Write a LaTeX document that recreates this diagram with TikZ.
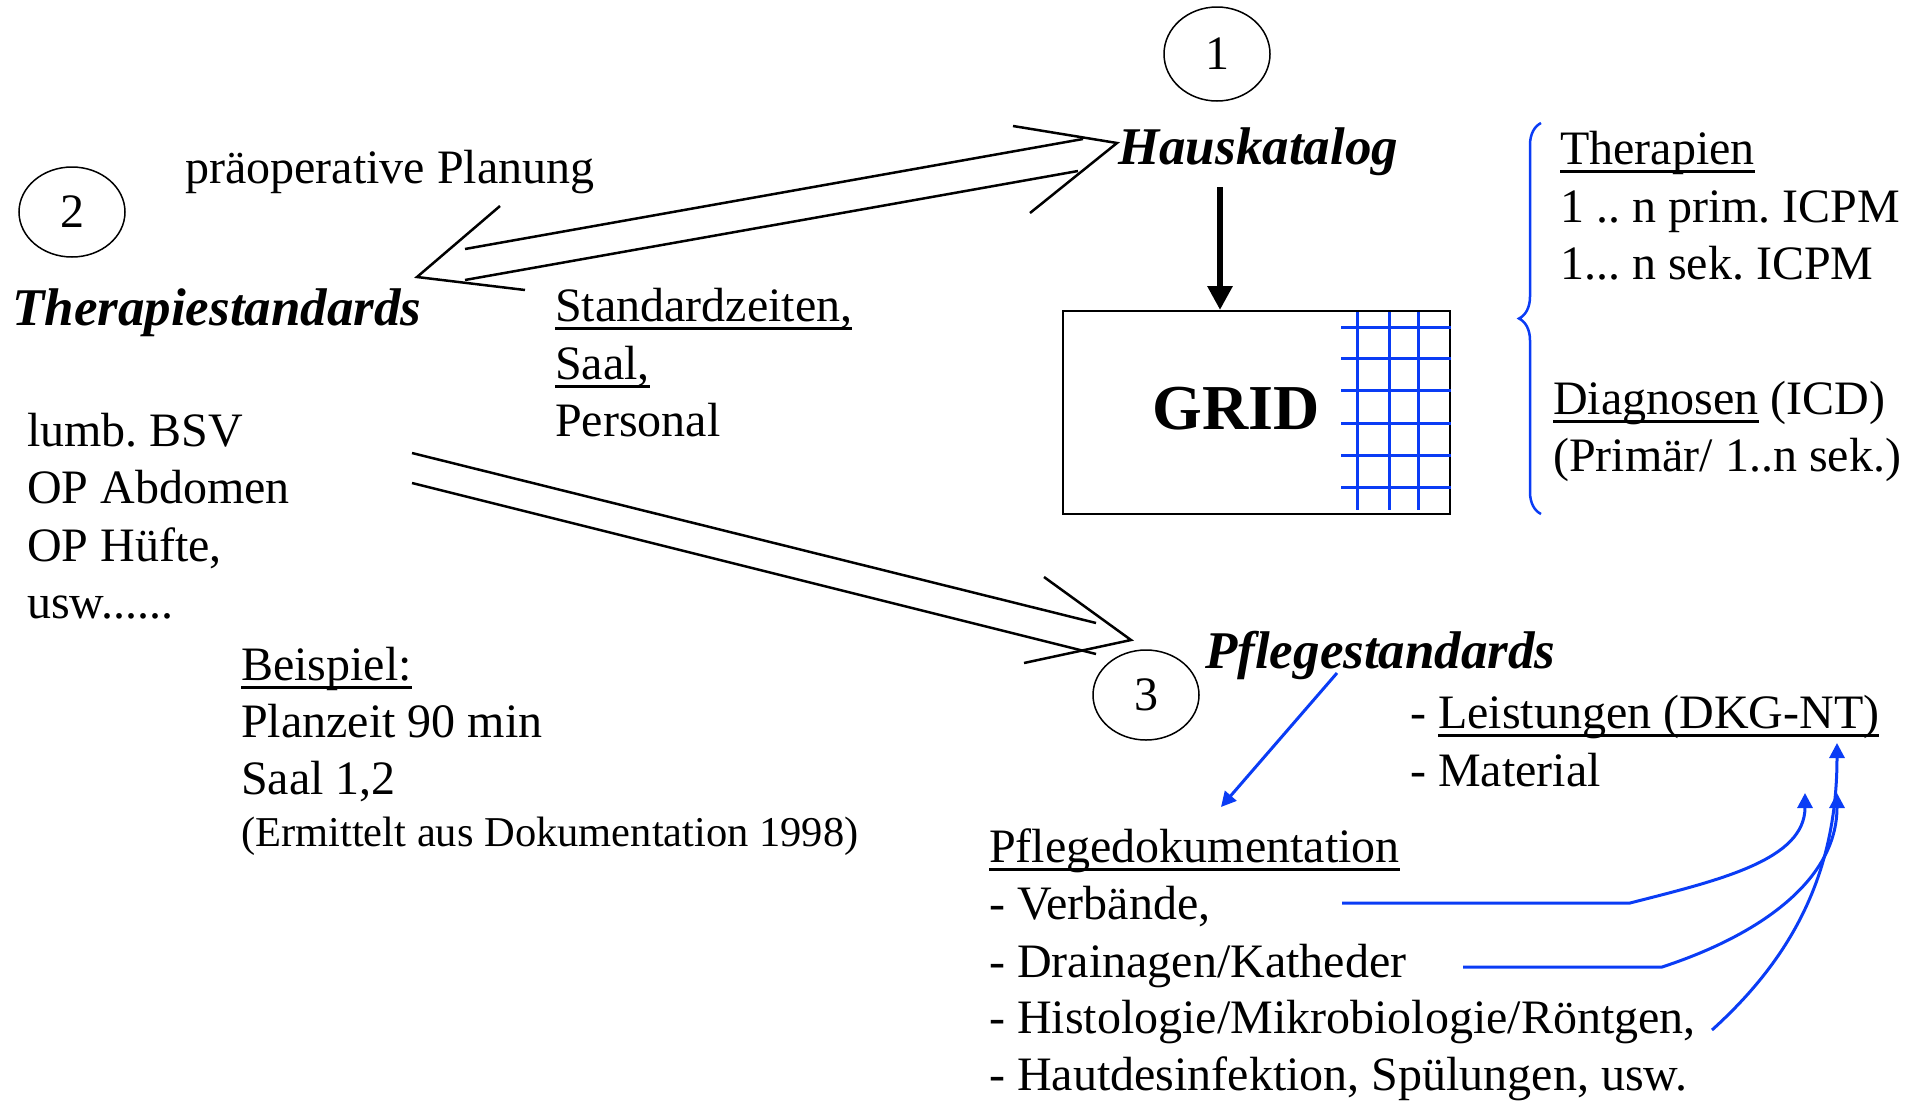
\documentclass[tikz,border=0pt]{standalone}
\usepackage{fontspec}
\setmainfont{Liberation Serif}
\usetikzlibrary{arrows.meta,calc,shapes.geometric,decorations.pathreplacing}
\definecolor{myblue}{RGB}{10,60,245}
\frenchspacing
\newlength{\ulwd}
\newcommand{\uln}[1]{\settowidth{\ulwd}{#1}\rlap{\rule[-8.5pt]{\ulwd}{2.5pt}}#1}
\tikzset{
  txt/.style={anchor=base west, inner sep=0pt, font=\fontsize{48}{57.6}\selectfont},
  small/.style={txt, font=\fontsize{42.5}{50}\selectfont},
  title/.style={anchor=base west, inner sep=0pt, font=\fontsize{53}{60}\selectfont\bfseries\itshape},
  num/.style={ellipse, draw, line width=1.5pt, minimum width=106pt, minimum height=90pt, inner sep=0pt, font=\fontsize{48}{57.6}\selectfont},
  hollow/.style={line width=2.5pt},
  bluearrow/.style={draw=myblue, line width=3pt, -{Triangle[length=15pt,width=15pt]}},
  gridline/.style={draw=myblue, line width=3pt}
}
\begin{document}
\begin{tikzpicture}[x=1pt,y=-1pt]
\useasboundingbox (0,0) rectangle (1922,1101);

\node[num, minimum height=94pt] (one) at (1217,54) {1};
\node[num] (two) at (72,212) {2};
\node[num] (three) at (1146,695) {3};

\node[txt] (plan) at (185,183) {präoperative Planung};
\node[title] (therap) at (12,325) {Therapiestandards};
\node[title] (haus) at (1118,164) {Hauskatalog};
\node[title] (pflege) at (1205,668) {Pflegestandards};

\node[txt] (op1) at (27,446) {lumb. BSV};
\node[txt] (op2) at (27,503.5) {OP Abdomen};
\node[txt] (op3) at (27,561) {OP Hüfte,};
\node[txt] (op4) at (27,618.5) {usw......};

\node[txt] (std1) at (555,321) {\uln{Standardzeiten,}};
\node[txt] (std2) at (555,379) {\uln{Saal,}};
\node[txt] (std3) at (555,436) {Personal};

\node[txt] (bsp1) at (241,680) {\uln{Beispiel:}};
\node[txt] (bsp2) at (241,737) {Planzeit 90 min};
\node[txt] (bsp3) at (241,794) {Saal 1,2};
\node[small] (bsp4) at (241,846) {(Ermittelt aus Dokumentation 1998)};

\node[txt] (ther1) at (1560,164) {\uln{Therapien}};
\node[txt] (ther2) at (1560,222) {1 .. n prim. ICPM};
\node[txt] (ther3) at (1560,279) {1... n sek. ICPM};
\node[txt] (diag1) at (1553,414) {\uln{Diagnosen} (ICD)};
\node[txt] (diag2) at (1553,471) {(Primär/ 1..n sek.)};

\node[txt] (leist) at (1410,728) {- \uln{Leistungen (DKG-NT)}};
\node[txt] (mat) at (1410,786) {- Material};

\node[txt] (doku1) at (989,862) {\uln{Pflegedokumentation}};
\node[txt] (doku2) at (989,919) {- Verbände,};
\node[txt] (doku3) at (989,977) {- Drainagen/Katheder};
\node[txt] (doku4) at (989,1033) {- Histologie/Mikrobiologie/Röntgen,};
\node[txt] (doku5) at (989,1090) {- Hautdesinfektion, Spülungen, usw.};

% GRID
\node[draw, line width=2pt, minimum width=387pt, minimum height=203pt] (gridbox) at (1256.5,412.5) {};
\node[anchor=base, inner sep=0pt, font=\fontsize{64}{70}\selectfont\bfseries] (gridtxt) at (1236,429) {GRID};
\foreach \x in {1357,1389,1418}
  \draw[gridline] (\x,312) -- (\x,510);
\foreach \y in {327,358,390,423,455,487}
  \draw[gridline] (1341,\y) -- (1451,\y);

\coordinate (hk) at (1220,187);
\draw[line width=6.5pt, -{Triangle[length=24pt,width=24pt]}] (hk) -- (hk |- gridbox.north);

\draw[decorate, decoration={brace, amplitude=22pt}, draw=myblue, line width=2.5pt] (1541,514) -- (1541,123);

% Hauskatalog <-> Therapiestandards
\coordinate (tl) at (417,277);
\coordinate (tr) at (1117,143);
\draw[hollow] ($(tl)+(83,-71)$) -- (tl) -- ($(tl)+(108,13)$);
\draw[hollow] ($(tr)+(-104,-17)$) -- (tr) -- ($(tr)+(-87,70)$);
\draw[hollow] ($(tl)+(48,-28)$) -- ($(tr)+(-34,-4)$);
\draw[hollow] ($(tl)+(48,3)$) -- ($(tr)+(-39,28)$);

% Therapiestandards -> Pflegestandards
\coordinate (sl) at (412,453);
\coordinate (tp) at (1131,640);
\draw[hollow] ($(tp)+(-87,-63)$) -- (tp) -- ($(tp)+(-107,23)$);
\draw[hollow] (sl) -- ($(tp)+(-35,-17)$);
\draw[hollow] ($(sl)+(0,30)$) -- ($(tp)+(-35,14)$);

% Pflegestandards -> Pflegedokumentation
\coordinate (ps) at (1337,673);
\coordinate (pd) at (1221,807);
\draw[bluearrow] (ps) -- (pd);

\coordinate (lk) at (1837,743);
\coordinate (la) at (1837,793);
\coordinate (lv) at (1805,793);
\coordinate (v1) at (1342,903);
\coordinate (v2) at (1463,967);
\coordinate (v3) at (1712,1030);
\draw[bluearrow] (v1) -- (1630,903) .. controls (1720,880) and (1805,860) .. (lv);
\draw[bluearrow] (v2) -- (1662,967) .. controls (1760,935) and (1837,880) .. (la);
\draw[bluearrow] (v3) .. controls (1795,955) and (1837,870) .. (lk);

\end{tikzpicture}
\end{document}
